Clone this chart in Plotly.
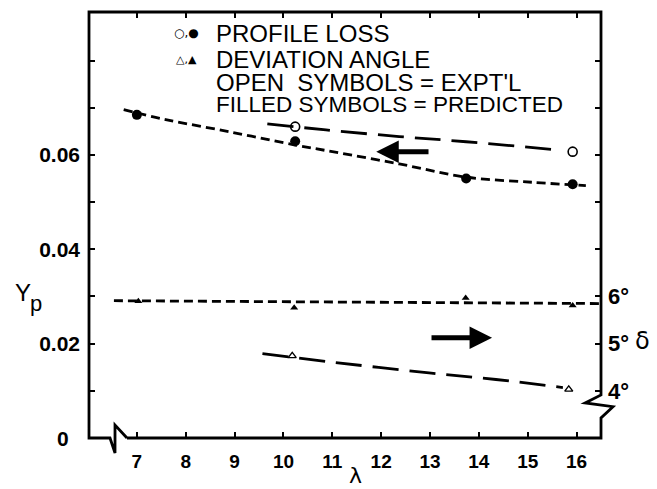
import plotly.graph_objects as go

# ---- profile loss Yp versus lambda ----
lam_yp_pred = [7.0, 10.24, 13.74, 15.92]
yp_pred = [0.0685, 0.0629, 0.0550, 0.0538]
lam_yp_expt = [10.24, 15.92]
yp_expt = [0.0660, 0.0607]

# faired curves through the profile loss points
lam_yp_pred_fit = [6.73, 7.59, 8.95, 10.24, 11.0, 12.37, 13.74, 15.1, 16.19]
yp_pred_fit = [0.0696, 0.0675, 0.0648, 0.0621, 0.0607, 0.0581, 0.0553, 0.0542, 0.0535]
lam_yp_expt_fit = [9.67, 10.87, 12.37, 13.74, 15.68]
yp_expt_fit = [0.0666, 0.0653, 0.0639, 0.0628, 0.0610]

# ---- deviation angle delta (deg) versus lambda ----
lam_dev_pred = [7.03, 10.22, 13.73, 15.92]
dev_pred = [5.90, 5.76, 5.97, 5.81]
lam_dev_expt = [10.18, 15.84]
dev_expt = [4.74, 4.03]

lam_dev_pred_fit = [6.53, 16.47]
dev_pred_fit = [5.91, 5.85]
lam_dev_expt_fit = [9.57, 10.9, 12.98, 14.35, 15.72]
dev_expt_fit = [4.79, 4.62, 4.38, 4.24, 4.07]

# ---- axes ----
x_ticks = [7, 8, 9, 10, 11, 12, 13, 14, 15, 16]
y_ticks = [0.01, 0.02, 0.03, 0.04, 0.05, 0.06, 0.07, 0.08]
y_ticktext = ["", "0.02", "", "0.04", "", "0.06", "", ""]
d_ticks = [4, 5, 6, 7, 8, 9, 10, 11]
d_ticktext = ["4°", "5°", "6°", "", "", "", "", ""]

# ---- key ----
key_lines = ["PROFILE LOSS", "DEVIATION ANGLE",
             "OPEN\u00a0 SYMBOLS = EXPT'L", "FILLED SYMBOLS = PREDICTED"]
key_sizes = [24, 24, 24, 22.5]
key_rows = [33, 60, 83, 104]

X_RANGE = [6.02, 16.5]
Y_RANGE = [0, 0.0903]
D_RANGE = [3, 3 + 100 * Y_RANGE[1]]

TXT = "Liberation Sans, Arial, sans-serif"
NUM = "Liberation Sans, Arial, sans-serif"
SYM = "DejaVu Sans, sans-serif"
INK = "black"

fig = go.Figure()

SHORT = "9px,5px"
LONG = "26px,11px"

fig.add_trace(go.Scatter(x=lam_yp_pred_fit, y=yp_pred_fit, mode="lines",
                         line=dict(color=INK, width=2.8, dash=SHORT, shape="spline")))
fig.add_trace(go.Scatter(x=lam_yp_expt_fit, y=yp_expt_fit, mode="lines",
                         line=dict(color=INK, width=2.8, dash=LONG, shape="spline")))
fig.add_trace(go.Scatter(x=lam_yp_pred, y=yp_pred, mode="markers",
                         marker=dict(symbol="circle", size=10, color=INK)))
fig.add_trace(go.Scatter(x=lam_yp_expt, y=yp_expt, mode="markers",
                         marker=dict(symbol="circle-open", size=9, color=INK,
                                     line=dict(width=1.6, color=INK))))

fig.add_trace(go.Scatter(x=lam_dev_pred_fit, y=dev_pred_fit, mode="lines", yaxis="y2",
                         line=dict(color=INK, width=2.8, dash=SHORT)))
fig.add_trace(go.Scatter(x=lam_dev_expt_fit, y=dev_expt_fit, mode="lines", yaxis="y2",
                         line=dict(color=INK, width=2.8, dash=LONG, shape="spline")))
fig.add_trace(go.Scatter(x=lam_dev_pred, y=dev_pred, mode="markers", yaxis="y2",
                         marker=dict(symbol="triangle-up", size=7, color=INK)))
fig.add_trace(go.Scatter(x=lam_dev_expt, y=dev_expt, mode="markers", yaxis="y2",
                         marker=dict(symbol="triangle-up-open", size=7, color=INK,
                                     line=dict(width=1.4, color=INK))))

# frame with broken-axis marks (paper coordinates)
frame = ("M 0.0742,0 L 1,0 L 1,0.047 L 1.0234,0.0735 L 0.969,0.0822 L 1,0.101 "
         "L 1,1 L 0,1 L 0,0 L 0.041,0 L 0.0508,-0.0352 L 0.0508,0.0305 L 0.0742,0")
fig.add_shape(type="path", path=frame, xref="paper", yref="paper",
              line=dict(color=INK, width=2.8))

ann = []
# arrows pointing to the relevant axis
ann.append(dict(x=11.9, y=0.0607, ax=13.0, ay=0.0607, xref="x", yref="y",
                axref="x", ayref="y", showarrow=True, arrowhead=2, arrowsize=0.9,
                arrowwidth=5, arrowcolor=INK, text=""))
ann.append(dict(x=14.27, y=5.125, ax=13.0, ay=5.125, xref="x", yref="y2",
                axref="x", ayref="y2", showarrow=True, arrowhead=2, arrowsize=0.9,
                arrowwidth=5, arrowcolor=INK, text=""))


def label(px, py, s, size=24, font=TXT, anchor="left", bold=False):
    ann.append(dict(x=(px - 89) / 512, y=(438 - py) / 426, xref="paper", yref="paper",
                    text=s, showarrow=False, xanchor=anchor, yanchor="middle",
                    font=dict(family=font, size=size, color=INK,
                              weight="bold" if bold else "normal")))


# key
for text, size, row in zip(key_lines, key_sizes, key_rows):
    label(214, row, text, size=size)
label(186, 33, "○,●", size=12, font=SYM, anchor="center")
label(186, 59, "△,▲", size=11, font=SYM, anchor="center")

# axis titles and extra labels
label(63, 438, "0", size=21, font=NUM, anchor="center", bold=True)
label(13, 292, "Y", size=24, font=NUM)
label(28, 303, "p", size=22, font=NUM)
label(355, 475, "λ", size=22, font=SYM, anchor="center")
label(633, 341, "δ", size=24, font=SYM)

fig.update_layout(
    width=657, height=489,
    margin=dict(l=89, r=56, t=12, b=51),
    paper_bgcolor="white", plot_bgcolor="white",
    showlegend=False,
    annotations=ann,
    xaxis=dict(range=X_RANGE, tickmode="array", tickvals=x_ticks,
               ticks="inside", ticklen=6, tickwidth=2, tickcolor=INK,
               mirror="ticks", showline=False, showgrid=False, zeroline=False,
               ticklabelstandoff=10,
               tickfont=dict(family=NUM, size=19, color=INK, weight="bold")),
    yaxis=dict(range=Y_RANGE, tickmode="array", tickvals=y_ticks, ticktext=y_ticktext,
               ticks="inside", ticklen=6, tickwidth=2, tickcolor=INK,
               showline=False, showgrid=False, zeroline=False,
               ticklabelstandoff=8,
               tickfont=dict(family=NUM, size=21, color=INK, weight="bold")),
    yaxis2=dict(range=D_RANGE, overlaying="y", side="right", tickmode="array",
                tickvals=d_ticks, ticktext=d_ticktext,
                ticks="inside", ticklen=6, tickwidth=2, tickcolor=INK,
                showline=False, showgrid=False, zeroline=False,
                ticklabelstandoff=6,
                tickfont=dict(family=NUM, size=22, color=INK, weight="bold")),
)

fig.write_html("out.html")
